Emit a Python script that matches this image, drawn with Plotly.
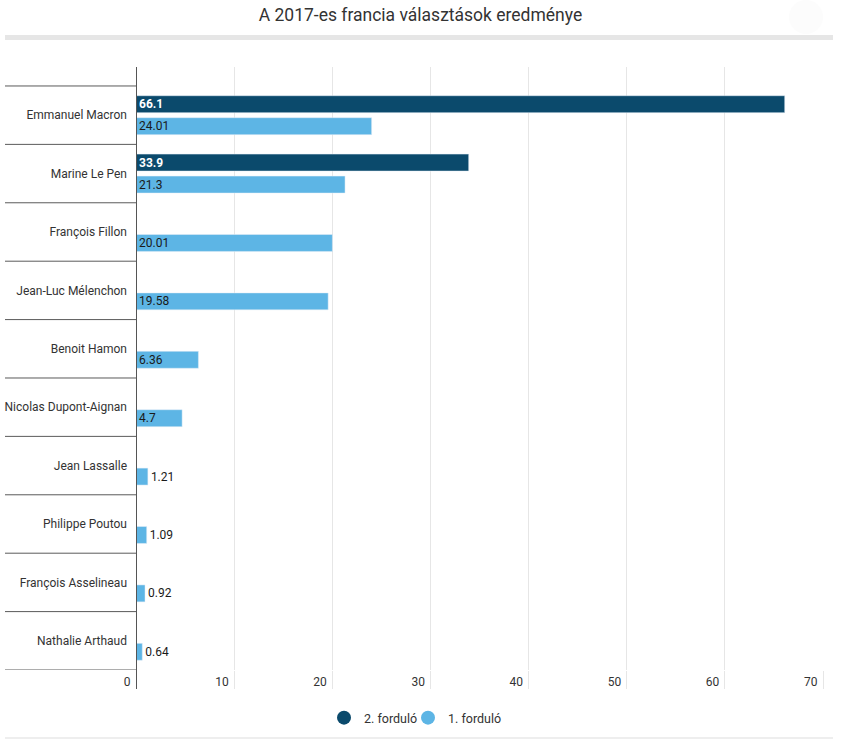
import plotly.graph_objects as go

candidates = ["Emmanuel Macron", "Marine Le Pen", "François Fillon", "Jean-Luc Mélenchon",
              "Benoit Hamon", "Nicolas Dupont-Aignan", "Jean Lassalle", "Philippe Poutou",
              "François Asselineau", "Nathalie Arthaud"]
round2 = [66.1, 33.9, None, None, None, None, None, None, None, None]
round1 = [24.01, 21.3, 20.01, 19.58, 6.36, 4.7, 1.21, 1.09, 0.92, 0.64]
x_ticks = [0, 10, 20, 30, 40, 50, 60, 70]
title = "A 2017-es francia választások eredménye"
name2 = "2. forduló"
name1 = "1. forduló"

DARK = "#0b4a6c"
LIGHT = "#5db5e5"
FONT = "Roboto"

W, H = 841, 746
L, T = 136, 67
R = W - 823
B = H - 670
PW = W - L - R
PH = H - T - B

def px_x(px):
    return (px - L) / PW

def px_y(py):
    return 1 - (py - T) / PH

fig = go.Figure()
fig.add_trace(go.Bar(
    y=candidates, x=round2, orientation="h", name=name2, marker_color=DARK,
    text=[("" if v is None else str(v)) for v in round2],
    textposition="auto", insidetextanchor="start",
    textfont=dict(family=FONT, size=12, color="white", weight="bold"),
    showlegend=False, cliponaxis=False, constraintext="none",
))
fig.add_trace(go.Bar(
    y=candidates, x=round1, orientation="h", name=name1, marker_color=LIGHT,
    text=[str(v) for v in round1],
    textposition="auto", insidetextanchor="start",
    textfont=dict(family=FONT, size=12, color="#1a1a1a"),
    showlegend=False, cliponaxis=False, constraintext="none",
))
# legend entries as circles (two separate legends for exact spacing)
fig.add_trace(go.Scatter(x=[None], y=[None], mode="markers", name=name2, legend="legend",
                         marker=dict(color=DARK, size=14, symbol="circle")))
fig.add_trace(go.Scatter(x=[None], y=[None], mode="markers", name=name1, legend="legend2",
                         marker=dict(color=LIGHT, size=14, symbol="circle")))

shapes = []
# top band
shapes.append(dict(type="rect", xref="paper", yref="paper",
                   x0=px_x(5), x1=px_x(833), y0=px_y(40), y1=px_y(35),
                   fillcolor="#e6e6e6", line=dict(width=0), layer="above"))
# bottom line
shapes.append(dict(type="line", xref="paper", yref="paper",
                   x0=px_x(5), x1=px_x(833), y0=px_y(738), y1=px_y(738),
                   line=dict(color="#dddddd", width=1)))
# category separators
for i in range(len(candidates) + 1):
    shapes.append(dict(type="line", xref="paper", yref="y",
                       x0=px_x(5), x1=0, y0=i - 0.5, y1=i - 0.5,
                       line=dict(color="#5a5a5a", width=1)))
# axis line
shapes.append(dict(type="line", xref="x", yref="paper", x0=0, x1=0,
                   y0=px_y(689), y1=1, line=dict(color="#555555", width=2), layer="above"))
# faint circle top right
shapes.append(dict(type="circle", xref="paper", yref="paper",
                   x0=px_x(789), x1=px_x(823), y0=px_y(34), y1=px_y(0),
                   fillcolor="#fcfcfc", line=dict(width=0)))

legend_common = dict(orientation="h", xanchor="left", xref="container",
                     yref="paper", y=px_y(718), yanchor="middle",
                     font=dict(size=12.5, color="#333333"), itemclick=False,
                     bgcolor="rgba(0,0,0,0)")

fig.update_layout(
    width=W, height=H,
    margin=dict(l=L, r=R, t=T, b=B, autoexpand=False),
    paper_bgcolor="white", plot_bgcolor="white",
    barmode="group", bargap=0.247, bargroupgap=0.23,
    font=dict(family=FONT, size=12, color="#333333"),
    title=dict(text=title, x=0.5, xref="container", xanchor="center",
               y=1 - 15 / H, yref="container", yanchor="middle",
               font=dict(family=FONT, size=17.5, color="#333333")),
    xaxis=dict(range=[0, 70], tickvals=x_ticks, showgrid=True, gridcolor="#e6e6e6",
               gridwidth=1, zeroline=False, ticks="outside", ticklen=18,
               tickcolor="#e6e6e6", ticklabelposition="outside left",
               ticklabelstandoff=1, ticklabelshift=-5,
               tickfont=dict(size=12, color="#333333"),
               showline=False, fixedrange=True),
    yaxis=dict(categoryorder="array", categoryarray=candidates,
               range=[len(candidates) - 0.5, -0.825], showgrid=False, zeroline=False,
               ticks="", showline=False, ticklabelstandoff=8,
               tickfont=dict(size=12, color="#333333"), fixedrange=True),
    legend=dict(x=(344 - 20) / W, **legend_common),
    legend2=dict(x=(428 - 20) / W, **legend_common),
    shapes=shapes,
    showlegend=True,
)

fig.write_html("out.html", config={"displayModeBar": False},
               post_script="document.body.style.margin='0';")
